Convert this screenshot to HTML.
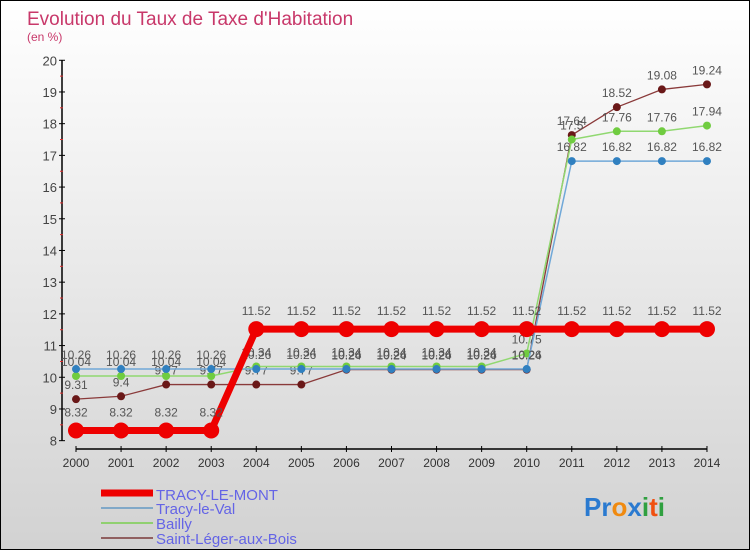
<!DOCTYPE html>
<html><head><meta charset="utf-8"><style>
body{margin:0}
#c{width:748px;height:548px;border:1px solid #000;position:relative;overflow:hidden;background:linear-gradient(#ffffff,#d2d2d2);font-family:"Liberation Sans",sans-serif}
</style></head><body>
<div id="c">
<svg id="s" width="748" height="548" xmlns="http://www.w3.org/2000/svg">
<text x="26" y="24" font-size="19" fill="#c8386a">Evolution du Taux de Taxe d'Habitation</text>
<text x="26" y="40" font-size="12" fill="#c8386a">(en %)</text>
<g id="axes"></g><g id="series"></g>
<g>
<line x1="100" y1="492" x2="152" y2="492" stroke="#ee0000" stroke-width="7"/>
<line x1="100" y1="507" x2="152" y2="507" stroke="#80a8c8" stroke-width="2"/>
<line x1="100" y1="522" x2="152" y2="522" stroke="#90d070" stroke-width="2"/>
<line x1="100" y1="537" x2="152" y2="537" stroke="#906060" stroke-width="2"/>
<text x="155" y="499" font-size="15" fill="#6464e6">TRACY-LE-MONT</text>
<text x="155" y="513" font-size="15" fill="#6464e6">Tracy-le-Val</text>
<text x="155" y="528" font-size="15" fill="#6464e6">Bailly</text>
<text x="155" y="543" font-size="15" fill="#6464e6">Saint-Léger-aux-Bois</text>
</g>
<text x="583" y="515" font-size="26" font-weight="bold"><tspan fill="#2a7ad0">Pr</tspan><tspan fill="#f08a10">o</tspan><tspan fill="#2a7ad0">x</tspan><tspan fill="#30a040">i</tspan><tspan fill="#f05010">t</tspan><tspan fill="#30a040">i</tspan></text>
</svg>
</div>
<script>
const years=[2000,2001,2002,2003,2004,2005,2006,2007,2008,2009,2010,2011,2012,2013,2014];
const tracyMont=[8.32,8.32,8.32,8.32,11.52,11.52,11.52,11.52,11.52,11.52,11.52,11.52,11.52,11.52,11.52];
const tracyVal=[10.26,10.26,10.26,10.26,10.26,10.26,10.26,10.26,10.26,10.26,10.26,16.82,16.82,16.82,16.82];
const bailly=[10.04,10.04,10.04,10.04,10.34,10.34,10.34,10.34,10.34,10.34,10.75,17.5,17.76,17.76,17.94];
const saintLeger=[9.31,9.4,9.77,9.77,9.77,9.77,10.24,10.24,10.24,10.24,10.24,17.64,18.52,19.08,19.24];
const yTicks=[8,9,10,11,12,13,14,15,16,17,18,19,20];
const NS="http://www.w3.org/2000/svg";
function xs(i){return 75+i*45.07;}
function ys(v){return 375-(v-10.04)*31.7;}
function mk(tag,a,p){const e=document.createElementNS(NS,tag);for(const k in a)e.setAttribute(k,a[k]);p.appendChild(e);return e;}
const ax=document.getElementById('axes');
const yl=mk('line',{x1:61,y1:ys(20),x2:61,y2:ys(8),stroke:'#000','stroke-width':1.5},ax);


yTicks.forEach(v=>{
 const y=ys(v);
 mk('line',{x1:58,y1:y,x2:64,y2:y,stroke:'#000'},ax);
 if(v<20)mk('line',{x1:59,y1:y-15.85,x2:62,y2:y-15.85,stroke:'#e03030'},ax);
 const t=mk('text',{x:56,y:y+5,'font-size':13,fill:'#444','text-anchor':'end'},ax);
 t.textContent=v;
 
 
});
const xl=mk('line',{x1:xs(0),y1:448,x2:xs(14),y2:448,stroke:'#000','stroke-width':1.5},ax);


years.forEach((yr,i)=>{
 mk('line',{x1:xs(i),y1:445,x2:xs(i),y2:451,stroke:'#000'},ax);
 const t=mk('text',{x:xs(i),y:466,'font-size':12,fill:'#333','text-anchor':'middle'},ax);
 t.textContent=yr;
 
 
});
const sg=document.getElementById('series');
function draw(data,name,color,w,r,dot){
 const g=mk('g',{},sg);
 
 
 mk('polyline',{points:data.map((v,i)=>xs(i)+','+ys(v)).join(' '),fill:'none',stroke:color,'stroke-width':w},g);
 data.forEach((v,i)=>{
  const c=mk('circle',{cx:xs(i),cy:ys(v),r:r,fill:dot},g);
  
  
  const t=mk('text',{x:xs(i),y:ys(v)-(r+6),'font-size':12,fill:'#555','text-anchor':'middle'},g);
  t.textContent=v;
  
  
 });
}
draw(saintLeger,'saint-leger','#8a3a3a',1.3,4,'#6a1818');
draw(bailly,'bailly','#90d870',1.5,4,'#70cc40');
draw(tracyVal,'tracy-le-val','#70a8d8',1.5,4,'#3080c0');
draw(tracyMont,'tracy-le-mont','#ee0000',7,8,'#ee0000');
</script>
</body></html>
